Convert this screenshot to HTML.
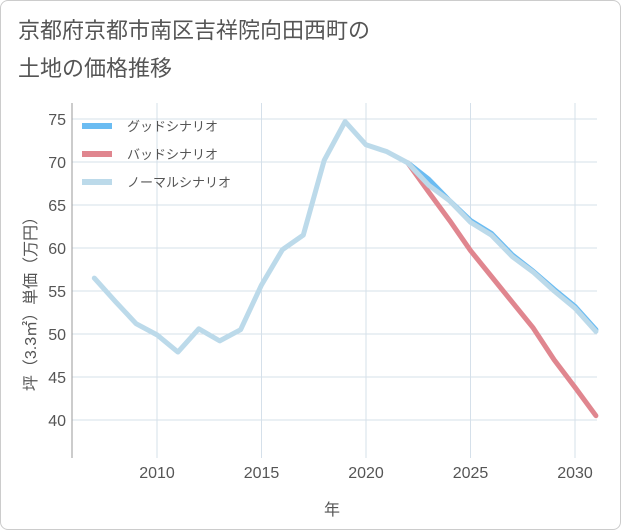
<!DOCTYPE html>
<html><head><meta charset="utf-8"><style>
body{margin:0;background:#fff;}
.card{position:absolute;left:0;top:0;width:619px;height:528px;border:1px solid #ccc;border-radius:8px;background:#fff;}
text{font-family:"Liberation Sans","Noto Sans CJK JP",sans-serif;}
</style></head><body>
<div class="card"></div>
<svg id="c" width="621" height="530" style="position:absolute;left:0;top:0">
<text x="18" y="38" font-size="22" fill="#555">京都府京都市南区吉祥院向田西町の</text>
<text x="18" y="76" font-size="22" fill="#555">土地の価格推移</text>
<g id="grid"></g><g id="series"></g><g id="legend"></g>
<text x="332" y="515" font-size="16" fill="#555" text-anchor="middle">年</text>
<text transform="translate(36,300) rotate(-90)" font-size="16" fill="#555" text-anchor="middle">坪（3.3㎡）単価（万円）</text>
</svg>
<script>
const years=[2007,2008,2009,2010,2011,2012,2013,2014,2015,2016,2017,2018,2019,2020,2021,2022,2023,2024,2025,2026,2027,2028,2029,2030,2031];
const normal=[56.5,53.8,51.2,49.9,47.9,50.6,49.2,50.5,55.7,59.8,61.5,70.2,74.7,72.0,71.2,69.9,67.3,65.5,63.0,61.5,59.0,57.2,55.0,53.0,50.3];
const goodYears=[2022,2023,2024,2025,2026,2027,2028,2029,2030,2031];
const good=[69.9,68.0,65.5,63.2,61.7,59.2,57.3,55.2,53.2,50.5];
const bad=[69.9,66.5,63.2,59.7,56.7,53.7,50.7,47.0,43.8,40.5];
const xTicks=[2010,2015,2020,2025,2030];
const yTicks=[40,45,50,55,60,65,70,75];
const L=72,R=597,T=103,B=458;
const X=y=>157+(y-2010)*20.9;
const Y=v=>420-(v-40)*8.6;
const ns="http://www.w3.org/2000/svg";
function mk(p,t,a){const e=document.createElementNS(ns,t);for(const k in a)e.setAttribute(k,a[k]);p.appendChild(e);return e;}
const g=document.getElementById('grid');
xTicks.forEach(t=>{const l=mk(g,'line',{x1:X(t),x2:X(t),y1:T,y2:B,stroke:'#d5e0ea'});

const tx=mk(g,'text',{x:X(t),y:478,'font-size':16,fill:'#555','text-anchor':'middle'});tx.textContent=t;
});
yTicks.forEach(t=>{const l=mk(g,'line',{x1:L,x2:R,y1:Y(t),y2:Y(t),stroke:'#d5e0ea'});

const tx=mk(g,'text',{x:66,y:Y(t)+6,'font-size':16,fill:'#555','text-anchor':'end'});tx.textContent=t;
});
const ax=mk(g,'line',{x1:L,x2:L,y1:T,y2:B,stroke:'#999'});

const s=document.getElementById('series');
function line(xs,vs,c,n){const p=mk(s,'polyline',{points:xs.map((y,i)=>X(y)+','+Y(vs[i])).join(' '),fill:'none',stroke:c,'stroke-width':5,'stroke-linejoin':'round','stroke-linecap':'round'});
}
line(goodYears,good,'#6bbcf2','good-scenario-line');
line(goodYears,bad,'#e0868f','bad-scenario-line');
line(years,normal,'#bcdaea','normal-scenario-line');
const lg=document.getElementById('legend');
[['グッドシナリオ','#6bbcf2'],['バッドシナリオ','#e0868f'],['ノーマルシナリオ','#bcdaea']].forEach((d,i)=>{
const y=126+i*28;
const r=mk(lg,'rect',{x:82,y:y-3,width:30,height:6,fill:d[1]});

const t=mk(lg,'text',{x:127,y:y+5,'font-size':13,fill:'#555'});t.textContent=d[0];
});
</script>
</body></html>
